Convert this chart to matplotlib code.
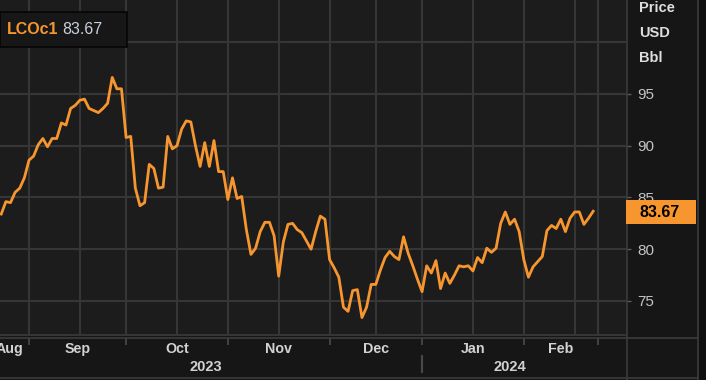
import math

import matplotlib
matplotlib.use("Agg")
import matplotlib.pyplot as plt
import pandas as pd
from matplotlib.patches import Rectangle
from matplotlib.transforms import blended_transform_factory

plt.rcParams["font.family"] = ["Liberation Sans", "DejaVu Sans"]

# LCOc1 (Brent front month) daily settlements, 24 Aug 2023 - 22 Feb 2024, USD/bbl
prices = [
    83.4, 84.6, 84.5, 85.5, 85.9, 86.9,                      # Aug
    88.6, 89.0, 90.1, 90.7, 89.9, 90.7, 90.7, 92.2, 92.0, 93.6,
    93.9, 94.4, 94.5, 93.6, 93.4, 93.2, 93.6, 94.1, 96.6, 95.5, 95.5,   # Sep
    90.8, 90.9, 85.9, 84.2, 84.5, 88.2, 87.8, 85.9, 86.0, 90.9, 89.7,
    90.0, 91.6, 92.4, 92.3, 90.0, 88.0, 90.3, 88.0, 90.5, 87.5, 87.5,   # Oct
    84.8, 86.9, 84.9, 85.1, 81.9, 79.5, 80.1, 81.7, 82.6, 82.6, 81.3,
    77.4, 80.7, 82.4, 82.5, 81.9, 81.6, 80.8, 80.0, 81.7, 83.2, 82.9,   # Nov
    79.0, 78.2, 77.3, 74.4, 74.0, 76.0, 76.1, 73.4, 74.4, 76.6, 76.6,
    78.0, 79.2, 79.8, 79.3, 79.0, 81.2, 79.6, 78.4, 77.1,               # Dec
    75.9, 78.4, 77.7, 78.9, 76.2, 77.7, 76.7, 77.5, 78.4, 78.3, 78.4,
    77.9, 79.2, 78.7, 80.1, 79.7, 80.1, 82.5, 83.6, 82.4, 82.9, 81.7,   # Jan
    79.0, 77.3, 78.3, 78.8, 79.3, 81.8, 82.3, 82.0, 82.9, 81.7, 83.0,
    83.6, 83.6, 82.4, 83.0, 83.67,                                      # Feb
]
holidays = ["2023-12-25", "2024-01-01"]
ric = "LCOc1"
units = ["Price", "USD", "Bbl"]
ytick_values = [75, 80, 85, 90, 95]
grid_levels = [75, 80, 85, 90, 95, 100]

ORANGE = "#f7962f"
PLOT_BG = "#1c1c1c"
PANEL_BG = "#161616"
GRID = "#363636"
BORDER = "#3c3c3c"
TEXT = "#d2d2d2"

W, H = 706, 380


def fx(px):
    return px / W


def fy(py):
    return 1 - py / H


# trading calendar, extended to the end of Feb so the last month has an end
cal = pd.bdate_range("2023-08-24", "2024-03-01")
cal = cal[~cal.isin(pd.to_datetime(holidays))]
months = cal.to_period("M")
starts = [i for i in range(1, len(cal)) if months[i] != months[i - 1]]
month_names = [cal[0].strftime("%b")] + [cal[i].strftime("%b") for i in starts[:-1]]
mids = [math.ceil((a + b) / 2) for a, b in zip(starts[:-1], starts[1:])]
next_day = len(prices)
x = list(range(len(prices)))
xlim = (-0.27, 135.1)
label_left = -2.6  # first month/year label hangs a little off the left edge

fig = plt.figure(figsize=(W / 100, H / 100), dpi=100, facecolor=PANEL_BG)

# main price panel
ax = fig.add_axes([0, fy(334), fx(626), 334 / H])
ax.set_facecolor(PLOT_BG)
for lvl in grid_levels:
    ax.axhline(lvl, color=GRID, lw=1.5, zorder=1)
for gx in starts[:-1] + mids + [next_day]:
    ax.axvline(gx, color=GRID, lw=1.5, zorder=1)
ax.plot(x, prices, color=ORANGE, lw=2.0, zorder=3)
ax.set_xlim(*xlim)
ax.set_ylim(71.81, 104.08)
ax.set_xticks([])
ax.set_yticks(ytick_values)
ax.yaxis.tick_right()
ax.tick_params(axis="y", direction="out", length=3.5, width=1, pad=4.5,
               color="#5a5a5a", labelcolor="#c4c4c4", labelsize=11)
for s in ax.spines.values():
    s.set_visible(False)

# bottom date strip (y measured in pixels down from its top edge)
axb = fig.add_axes([0, fy(378), fx(626), (378 - 338) / H])
axb.set_facecolor(PANEL_BG)
axb.set_xlim(*xlim)
axb.set_ylim(40, 0)
axb.axis("off")
axb.vlines(starts[:-1] + [next_day], 0, 7, color="#4a4a4a", lw=1.2)
bounds = [label_left] + starts[:-1] + [next_day]
for name, a, b in zip(month_names, bounds[:-1], bounds[1:]):
    axb.text((a + b) / 2, 11, name, ha="center", va="center",
             color=TEXT, fontsize=10.3, fontweight="bold")
year_split = starts[4]
axb.vlines([year_split], 17, 35, color="#4a4a4a", lw=1.5)
axb.text((label_left + year_split) / 2, 29, "2023", ha="center", va="center",
         color=TEXT, fontsize=10.5, fontweight="bold")
axb.text((year_split + next_day) / 2, 29, "2024", ha="center", va="center",
         color=TEXT, fontsize=10.5, fontweight="bold")

# frame lines
for xs, ys in [
    ((fx(626.5), fx(626.5)), (fy(0), fy(380))),
    ((fx(697.5), fx(697.5)), (fy(0), fy(380))),
    ((0, fx(626)), (fy(334.5), fy(334.5))),
    ((0, fx(697.5)), (fy(338), fy(338))),
    ((0, fx(697.5)), (fy(378), fy(378))),
]:
    fig.add_artist(plt.Line2D(xs, ys, color=BORDER, lw=1.2))
fig.add_artist(Rectangle((fx(698), 0), 1 - fx(698), 1, transform=fig.transFigure,
                         facecolor="#101010", edgecolor="none"))

# units header on the right
for i, u in enumerate(units):
    fig.text(fx(639), fy(8 + 25 * i), u, ha="left", va="center",
             color="#dedede", fontsize=10.5, fontweight="bold")

# last value tag on the price scale
last = prices[-1]
tr = blended_transform_factory(fig.transFigure, ax.transData)
tag_h = 24 / 334 * (104.08 - 71.81)
fig.add_artist(Rectangle((fx(626), last - tag_h / 2 - 0.12), fx(696) - fx(626), tag_h,
                         transform=tr, facecolor=ORANGE, edgecolor="none", zorder=5))
fig.text(fx(639), last - 0.12, f"{last:.2f}", transform=tr, ha="left", va="center",
         color="#000000", fontsize=11.5, fontweight="bold", zorder=6)

# legend box top-left
fig.add_artist(Rectangle((0, fy(47)), fx(127), 35 / H, transform=fig.transFigure,
                         facecolor="#171717", edgecolor="#060606", lw=1.2, zorder=5))
fig.text(fx(7), fy(30), ric, ha="left", va="center", color=ORANGE,
         fontsize=11.5, fontweight="bold", zorder=6)
fig.text(fx(62), fy(30), f"{last:.2f}", ha="left", va="center", color="#c9d2de",
         fontsize=11.5, zorder=6)

fig.savefig("out.png", dpi=100, facecolor=fig.get_facecolor())
